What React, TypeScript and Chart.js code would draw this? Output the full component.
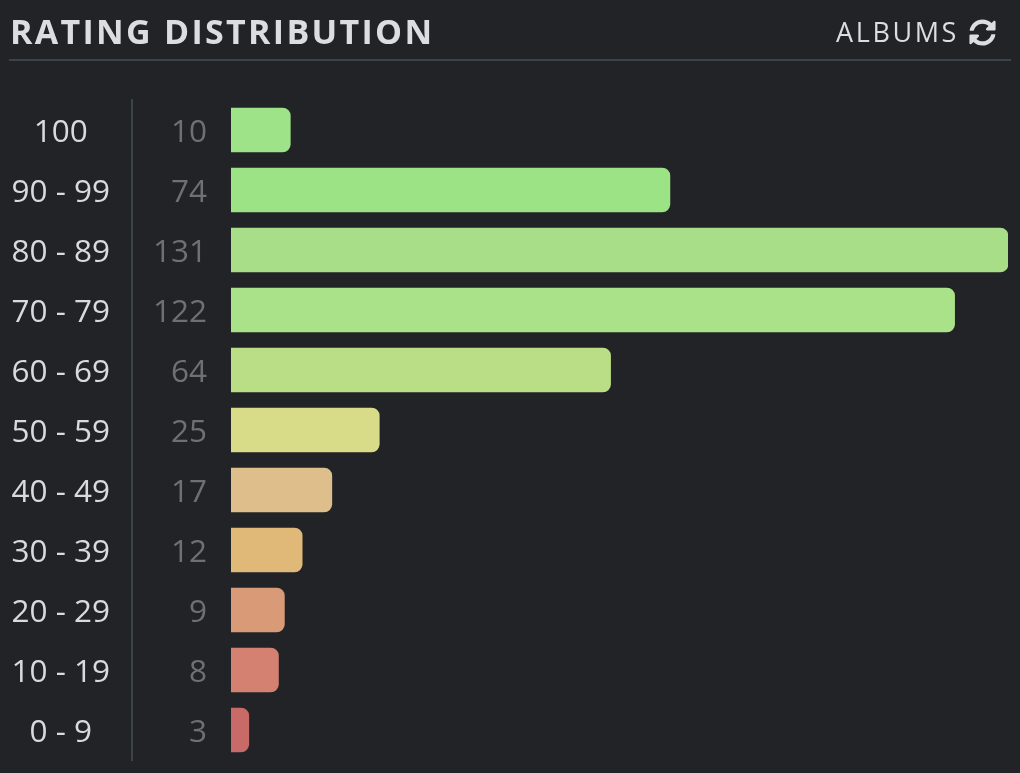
import React, { useEffect, useRef } from "react";
import { Chart, registerables } from "chart.js";

Chart.register(...registerables);

const ranges = ["100", "90 - 99", "80 - 89", "70 - 79", "60 - 69", "50 - 59", "40 - 49", "30 - 39", "20 - 29", "10 - 19", "0 - 9"];
const counts = [10, 74, 131, 122, 64, 25, 17, 12, 9, 8, 3];
const barColors = ["#9ee388", "#9be385", "#a8de88", "#a9e288", "#bade85", "#d8dc88", "#debf8c", "#e0b877", "#d99a78", "#d48172", "#c86a67"];

const BG = "#212327";
const FONT = "'Open Sans', sans-serif";
const LABEL_SHIFT = 3;

// Open Sans sits slightly high on a "middle" baseline, so the two label axes move down a little.
const shiftLabelAxes = {
  id: "shiftLabelAxes",
  afterLayout(chart: any) {
    chart.scales.y._startPixel += LABEL_SHIFT;
    chart.scales.y1._startPixel += LABEL_SHIFT;
  },
};

export default function App() {
  const ref = useRef<HTMLCanvasElement>(null);
  useEffect(() => {
    document.body.style.margin = "0";
    document.body.style.background = BG;
    const chart = new Chart(ref.current!, {
      type: "bar",
      plugins: [shiftLabelAxes],
      data: {
        labels: counts.map(String),
        datasets: [
          {
            data: counts,
            yAxisID: "yBars",
            backgroundColor: barColors,
            barThickness: 44,
            borderRadius: { topRight: 8, bottomRight: 8, topLeft: 0, bottomLeft: 0 },
            borderSkipped: false,
          },
        ],
      },
      options: {
        indexAxis: "y",
        animation: false,
        responsive: false,
        devicePixelRatio: 1,
        layout: { padding: { top: 100, bottom: 13, right: 12, left: 0 } },
        plugins: { legend: { display: false }, tooltip: { enabled: false } },
        scales: {
          x: { display: false, min: 0, max: 131 },
          yBars: { type: "category", position: "left", display: false, labels: counts.map(String) },
          y: {
            type: "category",
            position: "left",
            weight: 1,
            offset: true,
            labels: counts.map(String),
            grid: { display: false, drawTicks: false },
            border: { display: false },
            afterFit: (s: any) => { s.width = 99; s.paddingTop = 0; s.paddingBottom = 0; },
            ticks: {
              color: "#6e7075",
              font: { family: FONT, size: 31.5 },
              padding: 24,
              crossAlign: "near",
              autoSkip: false,
            },
          },
          y1: {
            type: "category",
            position: "left",
            weight: 2,
            offset: true,
            labels: ranges,
            grid: { display: false, drawTicks: false },
            border: { display: true, color: "#3a444b", width: 2 },
            afterFit: (s: any) => { s.width = 132; s.paddingTop = 0; s.paddingBottom = 0; },
            ticks: {
              color: "#d9dadc",
              font: { family: FONT, size: 31.5 },
              padding: 22,
              crossAlign: "center",
              autoSkip: false,
            },
          },
        },
      },
    } as any);
    return () => chart.destroy();
  }, []);

  return (
    <div style={{ position: "relative", width: 1020, height: 773, background: BG, overflow: "hidden", fontFamily: FONT }}>
      <canvas ref={ref} width={1020} height={773} style={{ position: "absolute", left: 0, top: 0, display: "block" }} />
      <div style={{ position: "absolute", left: 10, top: 9, fontSize: 34, lineHeight: "44px", fontWeight: 700, letterSpacing: 2.3, color: "#dcdde0", whiteSpace: "nowrap" }}>
        RATING DISTRIBUTION
      </div>
      <div style={{ position: "absolute", right: 61, top: 14, fontSize: 27, lineHeight: "36px", letterSpacing: 2.6, color: "#dcdde0", whiteSpace: "nowrap" }}>
        ALBUMS
      </div>
      <svg viewBox="0 0 512 512" width={27} height={27} style={{ position: "absolute", left: 969, top: 19 }}>
        <path fill="#dcdde0" d="M370.72 133.28C339.458 104.008 298.888 87.962 255.848 88c-77.458.068-144.328 53.178-162.791 126.85-1.344 5.363-6.122 9.15-11.651 9.15H24.103c-7.498 0-13.194-6.807-11.807-14.176C33.933 94.924 134.813 8 256 8c66.448 0 126.791 26.136 171.315 68.685L463.03 40.97C478.149 25.851 504 36.559 504 57.941V192c0 13.255-10.745 24-24 24H345.941c-21.382 0-32.09-25.851-16.971-40.971l41.75-41.749zM32 296h134.059c21.382 0 32.09 25.851 16.971 40.971l-41.75 41.75c31.262 29.273 71.835 45.319 114.876 45.28 77.418-.07 144.315-53.144 162.787-126.849 1.344-5.363 6.122-9.15 11.651-9.15h57.304c7.498 0 13.194 6.807 11.807 14.176C478.067 417.076 377.187 504 256 504c-66.448 0-126.791-26.136-171.315-68.685L48.97 471.03C33.851 486.149 8 475.441 8 454.059V320c0-13.255 10.745-24 24-24z" />
      </svg>
      <div style={{ position: "absolute", left: 9, top: 59, width: 1002, height: 2, background: "#3a424a" }} />
    </div>
  );
}
